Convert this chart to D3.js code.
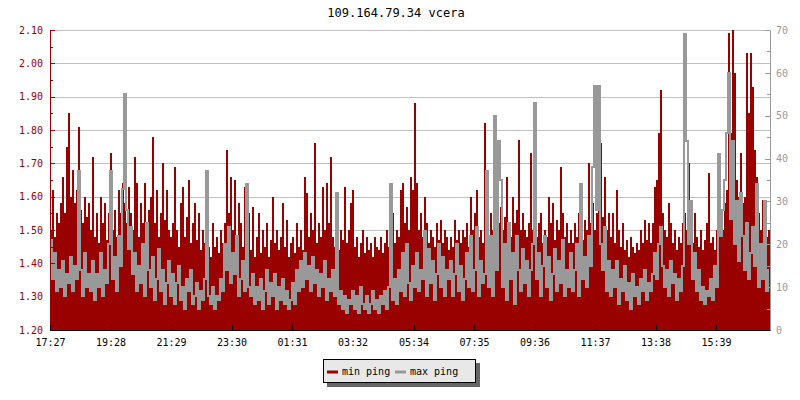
<!DOCTYPE html>
<html>
<head>
<meta charset="utf-8">
<script src="https://cdn.jsdelivr.net/npm/d3@7/dist/d3.min.js"></script>
<style>
  html, body { margin: 0; padding: 0; background: #ffffff; }
  svg { display: block; }
  text { font-family: "DejaVu Sans Mono", "Liberation Mono", monospace; }
</style>
</head>
<body>
<svg id="chart" width="800" height="400"></svg>
<script>
// ---------- DATA ----------
const title = "109.164.79.34 vcera";
const startTime = "17:27";          // first sample
const stepMinutes = 4;               // sample spacing
const spanMinutes = 1440;            // width of the time axis
const seriesNames = ["min ping", "max ping"];

// min ping (left axis)
const minPing = [
  1.50,1.62,1.48,1.55,1.52,1.58,1.66,1.55,1.75,1.85,1.60,1.68,1.58,1.62,1.81,1.56,1.52,1.60,1.54,1.58,
  1.50,1.72,1.48,1.55,1.46,1.60,1.52,1.58,1.47,1.55,1.73,1.50,1.56,1.48,1.62,1.55,1.64,1.58,1.52,1.63,
  1.55,1.50,1.72,1.64,1.48,1.58,1.52,1.64,1.50,1.56,1.60,1.78,1.52,1.62,1.48,1.55,1.70,1.53,1.62,1.50,
  1.48,1.52,1.69,1.50,1.45,1.58,1.63,1.48,1.54,1.65,1.46,1.52,1.58,1.47,1.55,1.44,1.50,1.46,1.52,1.45,
  1.42,1.52,1.45,1.48,1.43,1.50,1.46,1.52,1.74,1.55,1.66,1.50,1.65,1.48,1.58,1.52,1.45,1.63,1.50,1.55,
  1.44,1.57,1.42,1.48,1.55,1.43,1.50,1.45,1.52,1.42,1.47,1.60,1.46,1.50,1.44,1.48,1.58,1.45,1.53,1.42,
  1.46,1.48,1.43,1.52,1.45,1.50,1.44,1.66,1.61,1.48,1.55,1.50,1.76,1.46,1.52,1.48,1.63,1.50,1.64,1.52,
  1.72,1.48,1.45,1.52,1.44,1.50,1.47,1.63,1.46,1.50,1.58,1.62,1.45,1.48,1.42,1.46,1.50,1.43,1.48,1.44,
  1.46,1.42,1.48,1.45,1.44,1.48,1.43,1.46,1.50,1.45,1.48,1.55,1.46,1.50,1.48,1.62,1.64,1.52,1.57,1.50,
  1.66,1.62,1.88,1.64,1.50,1.55,1.48,1.60,1.52,1.46,1.50,1.48,1.45,1.52,1.47,1.53,1.46,1.50,1.48,1.44,
  1.48,1.45,1.53,1.47,1.50,1.46,1.50,1.48,1.52,1.45,1.60,1.50,1.55,1.62,1.48,1.50,1.46,1.82,1.52,1.48,
  1.55,1.50,1.70,1.48,1.52,1.57,1.50,1.54,1.66,1.50,1.48,1.60,1.52,1.56,1.77,1.50,1.55,1.50,1.48,1.52,
  1.73,1.50,1.55,1.48,1.52,1.55,1.46,1.50,1.48,1.60,1.52,1.58,1.47,1.53,1.50,1.69,1.55,1.48,1.52,1.46,
  1.50,1.46,1.52,1.48,1.55,1.50,1.47,1.53,1.50,1.70,1.52,1.58,1.50,1.55,1.72,1.76,1.54,1.66,1.50,1.55,
  1.48,1.55,1.46,1.62,1.50,1.45,1.52,1.44,1.47,1.42,1.48,1.45,1.43,1.46,1.44,1.50,1.46,1.53,1.47,1.52,
  1.46,1.52,1.63,1.65,1.79,1.92,1.55,1.50,1.48,1.58,1.52,1.46,1.50,1.44,1.48,1.46,1.52,1.55,1.50,1.70,
  1.52,1.46,1.55,1.48,1.45,1.50,1.44,1.47,1.52,1.67,1.46,1.48,1.44,1.50,1.48,1.55,1.50,1.58,1.62,2.09,
  1.79,2.10,1.97,1.65,1.60,1.73,1.58,1.60,2.03,1.85,2.03,1.93,1.74,1.66,1.55,1.50,1.59,1.46,1.48,1.50
];

// max ping (right axis)
const maxPing = [
  21,12,18,9,14,10,16,8,13,11,17,9,15,12,37,14,8,18,10,13,
  9,16,7,13,10,18,8,14,11,20,37,12,17,9,22,15,33,55,28,19,
  24,13,18,9,15,11,20,8,25,14,10,17,7,12,19,9,14,6,11,16,
  8,13,6,11,15,7,10,5,12,9,14,6,8,11,5,9,7,12,37,8,
  6,10,5,8,7,12,9,20,14,24,11,18,13,22,8,12,16,9,34,10,
  8,13,6,10,7,12,5,9,14,6,11,8,13,5,10,7,12,6,9,5,
  7,11,6,14,9,16,10,18,12,15,9,17,11,14,8,13,10,16,7,12,
  9,14,8,32,6,9,5,8,4,7,6,9,5,8,4,10,6,5,8,4,
  6,9,5,7,4,8,6,9,5,10,34,7,12,6,14,9,18,8,20,11,
  7,15,10,18,9,14,12,23,8,19,11,16,7,13,20,10,17,8,14,12,
  16,8,13,20,9,15,7,12,18,10,22,9,14,24,8,16,11,13,37,10,
  22,8,50,14,44,35,10,20,7,25,12,18,6,22,14,9,19,11,16,8,
  14,20,53,12,18,8,15,22,10,17,7,13,19,9,16,11,21,8,14,10,
  18,9,14,20,8,34,12,17,10,22,15,38,57,28,57,20,14,24,9,16,
  8,14,10,16,6,12,9,15,7,11,5,13,8,10,6,12,9,14,7,11,
  9,13,18,12,20,24,15,10,14,8,16,11,13,7,12,9,15,69,44,20,
  30,12,18,9,14,7,10,6,9,8,12,7,15,10,41,22,28,35,46,60,
  26,44,20,30,16,32,22,14,25,12,18,24,15,34,10,20,12,30,9,14
];

const xTickLabels = ["17:27","19:28","21:29","23:30","01:31","03:32","05:34","07:35","09:36","11:37","13:38","15:39"];
const leftTicks  = [1.20,1.30,1.40,1.50,1.60,1.70,1.80,1.90,2.00,2.10];
const leftMinor  = [1.25,1.35,1.45,1.55,1.65,1.75,1.85,1.95,2.05];
const rightTicks = [0,10,20,30,40,50,60,70];
const rightMinor = [5,15,25,35,45,55,65];

// ---------- LAYOUT ----------
const plot = { left: 50, right: 770, top: 30, bottom: 330 };
const RED = "#990000", GREY = "#999999";

const svg = d3.select("#chart");

function parseHM(s, dayOffset) {
  const [h, m] = s.split(":").map(Number);
  return new Date(2000, 0, 1 + dayOffset, h, m);
}
const t0 = parseHM(startTime, 0);
const t1 = d3.timeMinute.offset(t0, spanMinutes);
const times = minPing.map((_, i) => d3.timeMinute.offset(t0, i * stepMinutes));
const tickDates = xTickLabels.map(s => {
  let d = parseHM(s, 0);
  if (d < t0) d = parseHM(s, 1);
  return d;
});

const x = d3.scaleTime().domain([t0, t1]).range([plot.left, plot.right]);
const yL = d3.scaleLinear().domain([1.20, 2.10]).range([plot.bottom, plot.top]);
const yR = d3.scaleLinear().domain([0, 70]).range([plot.bottom, plot.top]);

// clip
svg.append("defs").append("clipPath").attr("id", "clip")
  .append("rect")
  .attr("x", plot.left).attr("y", plot.top)
  .attr("width", plot.right - plot.left).attr("height", plot.bottom - plot.top);

// title
svg.append("text")
  .attr("x", 396).attr("y", 17)
  .attr("text-anchor", "middle")
  .attr("font-size", 12)
  .attr("fill", "#000")
  .text(title);

// grid lines
svg.append("g")
  .selectAll("line").data(leftTicks).join("line")
  .attr("x1", plot.left).attr("x2", plot.right)
  .attr("y1", d => Math.round(yL(d)) + 0.5).attr("y2", d => Math.round(yL(d)) + 0.5)
  .attr("stroke", "#c0c0c0").attr("stroke-width", 1);

// data
const dataG = svg.append("g").attr("clip-path", "url(#clip)");

dataG.selectAll("rect.minp").data(minPing).join("rect")
  .attr("class", "minp")
  .attr("x", (d, i) => x(times[i]))
  .attr("width", (d, i) => x(d3.timeMinute.offset(times[i], stepMinutes)) - x(times[i]))
  .attr("y", d => yL(d))
  .attr("height", d => yL(1.20) - yL(d))
  .attr("fill", RED)
  .attr("shape-rendering", "crispEdges");

const line = d3.line()
  .curve(d3.curveStep)
  .x((d, i) => x(times[i]) + 1)
  .y(d => yR(d));
dataG.append("path")
  .datum(maxPing)
  .attr("d", line)
  .attr("fill", "none")
  .attr("stroke", GREY)
  .attr("stroke-width", 2)
  .attr("shape-rendering", "crispEdges");

// left axis
const leftAxis = d3.axisLeft(yL).tickValues(leftTicks).tickSize(0).tickPadding(7)
  .tickFormat(d3.format(".2f"));
const gL = svg.append("g").attr("transform", `translate(${plot.left},0)`).call(leftAxis);
gL.select(".domain").attr("stroke", RED);
gL.selectAll("text").attr("fill", RED).attr("font-size", 10)
  .attr("font-family", '"DejaVu Sans Mono", monospace');
gL.append("g").selectAll("line").data(leftTicks).join("line")
  .attr("x1", 0).attr("x2", 5)
  .attr("y1", d => Math.round(yL(d)) + 0.5).attr("y2", d => Math.round(yL(d)) + 0.5)
  .attr("stroke", RED);
gL.append("g").selectAll("line").data(leftMinor).join("line")
  .attr("x1", 0).attr("x2", 3)
  .attr("y1", d => Math.round(yL(d)) + 0.5).attr("y2", d => Math.round(yL(d)) + 0.5)
  .attr("stroke", RED);

// right axis
const rightAxis = d3.axisRight(yR).tickValues(rightTicks).tickSize(0).tickPadding(6)
  .tickFormat(d3.format("d"));
const gR = svg.append("g").attr("transform", `translate(${plot.right},0)`).call(rightAxis);
gR.select(".domain").attr("stroke", GREY);
gR.selectAll("text").attr("fill", GREY).attr("font-size", 10)
  .attr("font-family", '"DejaVu Sans Mono", monospace');
gR.append("g").selectAll("line").data(rightTicks).join("line")
  .attr("x1", 0).attr("x2", -5)
  .attr("y1", d => Math.round(yR(d)) + 0.5).attr("y2", d => Math.round(yR(d)) + 0.5)
  .attr("stroke", GREY);
gR.append("g").selectAll("line").data(rightMinor).join("line")
  .attr("x1", 0).attr("x2", -3)
  .attr("y1", d => Math.round(yR(d)) + 0.5).attr("y2", d => Math.round(yR(d)) + 0.5)
  .attr("stroke", GREY);

// bottom axis
const bottomAxis = d3.axisBottom(x).tickValues(tickDates).tickSize(0).tickPadding(9)
  .tickFormat((d, i) => xTickLabels[i]);
const gB = svg.append("g").attr("transform", `translate(0,${plot.bottom})`).call(bottomAxis);
gB.select(".domain").attr("stroke", "#000");
gB.selectAll("text").attr("fill", "#000").attr("font-size", 10)
  .attr("font-family", '"DejaVu Sans Mono", monospace');
gB.append("g").selectAll("line").data(tickDates).join("line")
  .attr("x1", d => Math.round(x(d)) + 0.5).attr("x2", d => Math.round(x(d)) + 0.5)
  .attr("y1", 0).attr("y2", -5)
  .attr("stroke", "#000");

// legend
const lg = svg.append("g");
lg.append("rect").attr("x", 327).attr("y", 363).attr("width", 153).attr("height", 24).attr("fill", "#666");
lg.append("rect").attr("x", 323.5).attr("y", 359.5).attr("width", 152).attr("height", 23)
  .attr("fill", "#e8e8e8").attr("stroke", "#000").attr("stroke-width", 1);
const legendItems = [
  { name: seriesNames[0], color: RED, x: 327 },
  { name: seriesNames[1], color: GREY, x: 395 }
];
legendItems.forEach(it => {
  lg.append("line").attr("x1", it.x).attr("x2", it.x + 11)
    .attr("y1", 372).attr("y2", 372)
    .attr("stroke", it.color).attr("stroke-width", 3);
  lg.append("text").attr("x", it.x + 15).attr("y", 375)
    .attr("font-size", 10).attr("fill", "#000").text(it.name);
});
</script>
</body>
</html>
